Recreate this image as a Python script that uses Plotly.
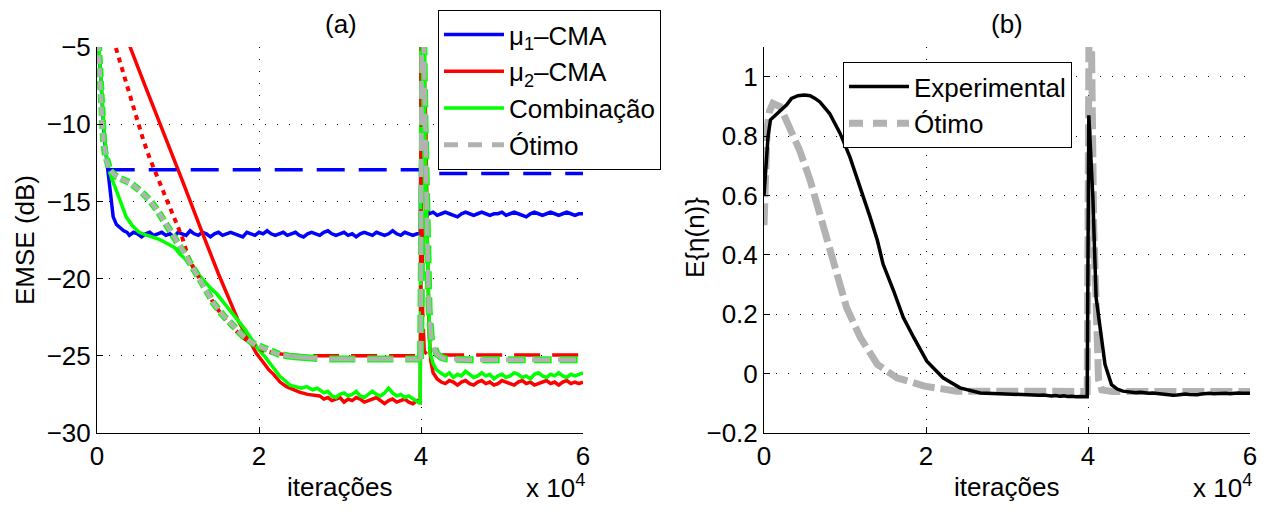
import numpy as np
import plotly.graph_objects as go

# ---------------- Panel (a) data (x in units of 10^4 iterations) ----------------
mu1_x_tr = [0, 0.03, 0.06, 0.09, 0.13, 0.15, 0.17, 0.2, 0.24, 0.28, 0.33, 0.37]
mu1_y_tr = [-3.0, -5.6, -8.4, -10.8, -12.8, -13.6, -14.8, -16.0, -16.5, -16.7, -16.9, -17.0]
mu1_y_flat1 = [-17.2, -17.0, -17.1, -17.3, -17.1, -17.0, -17.2, -17.1, -17.0, -17.2,
               -17.1, -17.3, -17.0, -17.1, -17.2, -16.9, -17.1, -17.2, -17.0, -17.1,
               -17.3, -17.1, -17.0, -17.2, -17.1, -17.0, -17.1, -17.2, -17.3, -17.0,
               -17.1, -17.2, -17.0, -17.1, -16.9, -17.1, -17.2, -17.1, -17.0, -17.2,
               -17.1, -17.0, -17.2, -17.3, -17.1, -17.0, -17.1, -17.2, -17.0, -16.9,
               -17.1, -17.2, -17.1, -17.0, -17.2, -17.1, -17.3, -17.1, -17.0, -17.1,
               -17.2, -17.0, -17.1, -17.2, -17.1, -16.9, -17.1, -17.2, -17.0, -17.1,
               -17.2, -17.1]
mu1_x_sp = [3.99, 4.01, 4.04, 4.06, 4.08]
mu1_y_sp = [-17.1, -3.0, -9.0, -14.5, -15.6]
mu1_y_flat2 = [-15.8, -15.7, -15.9, -15.8, -15.7, -15.8, -15.9, -16.0, -15.8, -15.7,
               -15.8, -15.9, -15.8, -15.7, -15.8, -15.9, -15.8, -15.8, -15.7, -15.9,
               -15.8, -15.7, -15.8, -15.9, -16.0, -15.8, -15.7, -15.8, -15.9, -15.8,
               -15.7, -15.8, -15.9, -15.8, -15.7, -15.8, -15.9, -15.8, -15.8]

mu2_x_tr = [0.33, 0.407, 0.6, 0.85, 1.05, 1.29, 1.5, 1.75, 1.97, 2.05, 2.12, 2.18,
            2.26, 2.34, 2.42, 2.5, 2.6, 2.7]
mu2_y_tr = [-4.0, -4.98, -7.6, -10.9, -13.6, -16.9, -19.7, -22.8, -24.86, -25.4, -25.9,
            -26.2, -26.7, -27.0, -27.2, -27.35, -27.5, -27.6]
mu2_y_flat1 = [-27.6, -27.8, -27.7, -27.9, -27.8, -27.7, -28.0, -27.8, -27.9, -27.7,
               -27.8, -28.0, -27.9, -27.8, -27.7, -27.9, -28.1, -27.9, -27.8, -28.0,
               -27.9, -27.8, -28.0, -28.1, -27.9]
mu2_x_sp = [3.99, 4.02, 4.06, 4.08, 4.1, 4.12, 4.15, 4.2, 4.25]
mu2_y_sp = [-28.0, -3.0, -10.0, -18.0, -23.5, -25.3, -26.1, -26.5, -26.7]
mu2_y_flat2 = [-26.8, -26.6, -26.7, -26.9, -26.7, -26.6, -26.8, -26.9, -26.7, -26.6,
               -26.8, -26.7, -26.9, -26.8, -26.6, -26.7, -26.8, -26.9, -26.7, -26.6,
               -26.8, -26.7, -26.9, -26.8, -26.7, -26.6, -26.8, -26.7, -26.9, -26.7,
               -26.6, -26.8, -26.7, -26.8, -26.7]

comb_x_tr = [0, 0.03, 0.06, 0.09, 0.13, 0.18, 0.24, 0.3, 0.36, 0.44, 0.52, 0.62, 0.74,
             0.82, 0.9, 0.96, 1.02, 1.08, 1.15, 1.23, 1.31, 1.4, 1.48, 1.56, 1.64, 1.7,
             1.77, 1.83, 1.89, 1.95, 2.01, 2.08, 2.14, 2.2, 2.26, 2.32, 2.38, 2.45, 2.52,
             2.59, 2.66, 2.72]
comb_y_tr = [-3.0, -5.5, -8.3, -10.6, -12.6, -13.5, -14.3, -15.2, -16.0, -16.6, -17.0,
             -17.2, -17.4, -17.6, -17.8, -18.0, -18.4, -18.7, -19.0, -19.6, -20.1, -20.6,
             -21.0, -21.5, -22.0, -22.4, -22.9, -23.3, -23.8, -24.2, -24.7, -25.1, -25.5,
             -25.9, -26.35, -26.6, -26.9, -27.0, -27.1, -27.0, -27.2, -27.1]
comb_y_flat1 = [-27.2, -27.4, -27.3, -27.6, -27.7, -27.5, -27.4, -27.6, -27.5, -27.3,
                -27.6, -27.7, -27.5, -27.3, -27.5, -27.6, -27.4, -27.1, -27.4, -27.6,
                -27.5, -27.7, -27.6, -27.8, -28.0]
comb_x_sp = [3.99, 4.0, 4.04, 4.07, 4.09, 4.11, 4.15, 4.19, 4.24]
comb_y_sp = [-28.1, -3.0, -8.0, -16.0, -22.0, -24.8, -25.5, -25.9, -26.1]
comb_y_flat2 = [-26.3, -26.1, -26.4, -26.2, -26.3, -26.0, -26.2, -26.4, -26.3, -26.1,
                -26.3, -26.2, -26.5, -26.3, -26.2, -26.4, -26.3, -26.1, -26.2, -26.4,
                -26.3, -26.5, -26.2, -26.1, -26.3, -26.4, -26.2, -26.3, -26.1, -26.3,
                -26.4, -26.2, -26.3, -26.2, -26.1]

mu1_th_x = [0.12, 3.995, 4.0, 6.0]
mu1_th_y = [-12.95, -12.95, -13.2, -13.2]

mu2_th_x = [0.18, 0.23, 0.32, 0.41, 0.49, 0.57, 0.65, 0.74, 0.82, 0.9, 0.98, 1.05, 1.12,
            1.2, 1.3, 1.44, 1.56, 1.68, 1.8, 1.93, 2.05, 2.2, 2.35, 2.5, 2.7, 3.0, 3.5,
            3.995, 4.0, 4.01, 4.02, 4.04, 4.08, 4.5, 5.0, 5.5, 6.0]
mu2_th_y = [-3.8, -5.0, -6.6, -8.2, -9.8, -11.0, -12.2, -13.3, -14.4, -15.4, -16.4, -17.3,
            -18.5, -19.4, -20.3, -21.6, -22.5, -23.2, -23.8, -24.3, -24.65, -24.85, -24.95,
            -25.0, -25.0, -25.0, -25.0, -25.0, -3.0, -15.0, -22.0, -24.7, -24.95, -24.95,
            -24.95, -24.95, -24.95]

opt_a_x = [0, 0.02, 0.04, 0.06, 0.08, 0.1, 0.12, 0.16, 0.24, 0.32, 0.41, 0.53, 0.65, 0.76,
           0.86, 0.95, 1.05, 1.15, 1.3, 1.44, 1.56, 1.68, 1.8, 1.93, 2.05, 2.14, 2.25, 2.4,
           2.6, 2.8, 3.2, 3.6, 3.995, 4.01, 4.03, 4.05, 4.08, 4.1, 4.13, 4.17, 4.2, 4.25,
           4.3, 4.6, 5.0, 5.5, 6.0]
opt_a_y = [-3.0, -5.5, -7.8, -9.6, -11.0, -11.9, -12.4, -13.0, -13.4, -13.6, -13.8, -14.3,
           -14.9, -15.7, -16.5, -17.2, -18.1, -19.0, -20.3, -21.6, -22.4, -23.1, -23.7,
           -24.2, -24.5, -24.7, -24.9, -25.05, -25.15, -25.2, -25.2, -25.2, -25.2, -3.0,
           -3.0, -10.0, -18.0, -22.0, -24.0, -24.6, -24.9, -25.1, -25.2, -25.25, -25.25,
           -25.25, -25.25]

# ---------------- Panel (b) data ----------------
exp_x_tr = [0, 0.02, 0.05, 0.08, 0.16, 0.22, 0.28, 0.34, 0.42, 0.5, 0.57, 0.63, 0.69,
            0.81, 0.94, 1.06, 1.19, 1.31, 1.4, 1.47, 1.6, 1.72, 1.85, 2.01, 2.21, 2.42,
            2.67, 2.85]
exp_y_tr = [0.6, 0.70, 0.80, 0.855, 0.876, 0.89, 0.905, 0.927, 0.936, 0.938, 0.936,
            0.927, 0.915, 0.876, 0.809, 0.73, 0.628, 0.527, 0.448, 0.369, 0.279, 0.189,
            0.121, 0.042, -0.014, -0.048, -0.065, -0.067]
exp_y_flat1 = [-0.068, -0.069, -0.070, -0.071, -0.070, -0.072, -0.071, -0.073, -0.072,
               -0.074, -0.073, -0.072, -0.074, -0.075, -0.074, -0.076, -0.075, -0.077,
               -0.076, -0.078, -0.077, -0.078]
exp_x_sp = [3.99, 4.01, 4.06, 4.1, 4.15, 4.21, 4.29, 4.36, 4.43]
exp_y_sp = [-0.078, 0.87, 0.594, 0.256, 0.144, 0.031, -0.037, -0.052, -0.059]
exp_y_flat2 = [-0.062, -0.063, -0.064, -0.063, -0.065, -0.066, -0.065, -0.067, -0.068,
               -0.070, -0.072, -0.073, -0.072, -0.070, -0.069, -0.070, -0.072, -0.071,
               -0.069, -0.067, -0.066, -0.068, -0.067, -0.065, -0.066, -0.068, -0.066,
               -0.065, -0.066, -0.067, -0.066]

opt_b_x = [0, 0.02, 0.04, 0.07, 0.11, 0.2, 0.32, 0.44, 0.57, 0.69, 0.77, 0.85, 1.02, 1.19,
           1.4, 1.64, 1.98, 2.38, 2.8, 3.4, 3.99, 4.015, 4.035, 4.07, 4.1, 4.13, 4.17,
           4.3, 5.0, 6.0]
opt_b_y = [0.5, 0.72, 0.83, 0.885, 0.91, 0.899, 0.831, 0.752, 0.651, 0.538, 0.46, 0.369,
           0.222, 0.121, 0.031, -0.014, -0.042, -0.059, -0.06, -0.06, -0.06, 1.3, 1.3,
           0.5, 0.15, -0.02, -0.055, -0.06, -0.06, -0.06]

BLUE, RED, GREEN, GRAY = "rgb(0,0,255)", "rgb(255,0,0)", "rgb(0,255,0)", "rgb(178,178,178)"
FONT = "Liberation Sans, Arial, Helvetica, sans-serif"
FS = 26


def grid(a, b, n):
    return list(np.round(np.linspace(a, b, n), 4))


mu1_x = mu1_x_tr + grid(0.4, 3.95, len(mu1_y_flat1)) + mu1_x_sp + grid(4.1, 6.0, len(mu1_y_flat2))
mu1_y = mu1_y_tr + mu1_y_flat1 + mu1_y_sp + mu1_y_flat2
mu2_x = mu2_x_tr + grid(2.75, 3.95, len(mu2_y_flat1)) + mu2_x_sp + grid(4.3, 6.0, len(mu2_y_flat2))
mu2_y = mu2_y_tr + mu2_y_flat1 + mu2_y_sp + mu2_y_flat2
comb_x = comb_x_tr + grid(2.75, 3.95, len(comb_y_flat1)) + comb_x_sp + grid(4.3, 6.0, len(comb_y_flat2))
comb_y = comb_y_tr + comb_y_flat1 + comb_y_sp + comb_y_flat2
exp_x = exp_x_tr + grid(2.9, 3.95, len(exp_y_flat1)) + exp_x_sp + grid(4.5, 6.0, len(exp_y_flat2))
exp_y = exp_y_tr + exp_y_flat1 + exp_y_sp + exp_y_flat2

fig = go.Figure()


def split(xs, ys, lo, hi):
    px = [x for x in xs if lo <= x <= hi]
    py = [y for x, y in zip(xs, ys) if lo <= x <= hi]
    return px, py


# experimental curves (a)
fig.add_trace(go.Scatter(x=mu1_x, y=mu1_y, mode="lines", line=dict(color=BLUE, width=3.5),
                         name="μ<sub>1</sub>–CMA", legend="legend", legendrank=1))
fig.add_trace(go.Scatter(x=mu2_x, y=mu2_y, mode="lines", line=dict(color=RED, width=3.5),
                         name="μ<sub>2</sub>–CMA", legend="legend", legendrank=2))
fig.add_trace(go.Scatter(x=comb_x, y=comb_y, mode="lines", line=dict(color=GREEN, width=3.5),
                         name="Combinação", legend="legend", legendrank=3))

# theory curves (a)
sx, sy = split(mu2_th_x, mu2_th_y, 0, 2.2)
fig.add_trace(go.Scatter(x=sx, y=sy, mode="lines", line=dict(color=RED, width=4, dash="5px,5px"),
                         showlegend=False))
sx, sy = split(mu2_th_x, mu2_th_y, 2.2, 6)
fig.add_trace(go.Scatter(x=sx, y=sy, mode="lines", line=dict(color=RED, width=3.5, dash="26px,12px"),
                         showlegend=False))
fig.add_trace(go.Scatter(x=mu1_th_x, y=mu1_th_y, mode="lines",
                         line=dict(color=BLUE, width=3.5, dash="28px,14px"), showlegend=False))
for lo, hi, d in [(0, 2.4, "9px,4px"), (2.4, 3.995, "26px,12px"), (3.995, 6, "18px,8px")]:
    sx, sy = split(opt_a_x, opt_a_y, lo, hi)
    fig.add_trace(go.Scatter(x=sx, y=sy, mode="lines", line=dict(color=GREEN, width=7, dash=d),
                             showlegend=False))
    fig.add_trace(go.Scatter(x=sx, y=sy, mode="lines", line=dict(color=GRAY, width=4.5, dash=d),
                             showlegend=False))
fig.add_trace(go.Scatter(x=[None], y=[None], mode="lines", line=dict(color=GRAY, width=5, dash="14px,10px"),
                         name="Ótimo", legend="legend", legendrank=4))

# panel (b)
fig.add_trace(go.Scatter(x=opt_b_x, y=opt_b_y, mode="lines", xaxis="x2", yaxis="y2",
                         line=dict(color=GRAY, width=7, dash="22px,6px"), showlegend=False))
fig.add_trace(go.Scatter(x=exp_x, y=exp_y, mode="lines", xaxis="x2", yaxis="y2",
                         line=dict(color="black", width=3.5), name="Experimental",
                         legend="legend2", legendrank=1))
fig.add_trace(go.Scatter(x=[None], y=[None], mode="lines", xaxis="x2", yaxis="y2",
                         line=dict(color=GRAY, width=7, dash="14px,10px"), name="Ótimo",
                         legend="legend2", legendrank=2))

# page has an 8px body margin: figure sized to fit, reference pixels shifted by 8
OFF = 8
W, H = 1275 - 2 * OFF, 512 - 2 * OFF


def fx(px):
    return (px - OFF) / W


def fy(py):
    return 1 - (py - OFF) / H


xa_dom = [fx(97), fx(583)]
xb_dom = [fx(764), fx(1250)]
y_dom = [fy(433), fy(47)]

axis_common = dict(showline=True, linecolor="black", linewidth=1, ticks="inside", ticklen=6,
                   tickcolor="black", tickwidth=1, showgrid=True, gridcolor="black", gridwidth=1,
                   griddash="1px,11px", zeroline=False, mirror=False, automargin=False,
                   tickfont=dict(family=FONT, size=FS, color="black"))

fig.update_layout(
    width=W, height=H, paper_bgcolor="white", plot_bgcolor="white",
    margin=dict(l=0, r=0, t=0, b=0, autoexpand=False),
    font=dict(family=FONT, size=FS, color="black"),
    xaxis=dict(domain=xa_dom, range=[0, 6], tickvals=[0, 2, 4, 6], anchor="y", **axis_common),
    yaxis=dict(domain=y_dom, range=[-30, -5], tickvals=[-30, -25, -20, -15, -10, -5], anchor="x",
               **axis_common),
    xaxis2=dict(domain=xb_dom, range=[0, 6], tickvals=[0, 2, 4, 6], anchor="y2", **axis_common),
    yaxis2=dict(domain=y_dom, range=[-0.2, 1.1], tickvals=[-0.2, 0, 0.2, 0.4, 0.6, 0.8, 1],
                ticktext=["−0.2", "0", "0.2", "0.4", "0.6", "0.8", "1"], anchor="x2", **axis_common),
    legend=dict(x=fx(438), y=fy(10), xanchor="left", yanchor="top", bgcolor="white",
                bordercolor="black", borderwidth=1, font=dict(family=FONT, size=FS),
                tracegroupgap=0, itemwidth=60),
    legend2=dict(x=fx(843), y=fy(62), xanchor="left", yanchor="top", bgcolor="white",
                 bordercolor="black", borderwidth=1, font=dict(family=FONT, size=FS),
                 tracegroupgap=0, itemwidth=60),
    showlegend=True,
)

ann = [
    ("(a)", 341, 8, 0, "top"), ("(b)", 1007, 8, 0, "top"),
    ("iterações", 340, 487, 0, "middle"), ("iterações", 1007, 487, 0, "middle"),
    ("x 10<sup>4</sup>", 555, 504, 0, "bottom"), ("x 10<sup>4</sup>", 1222, 504, 0, "bottom"),
    ("EMSE (dB)", 25, 240, -90, "middle"), ("E{η(n)}", 695, 238, -90, "middle"),
]
for t, px, py, ang, ya in ann:
    fig.add_annotation(text=t, x=fx(px), y=fy(py), xref="paper", yref="paper",
                       showarrow=False, textangle=ang, xanchor="center", yanchor=ya,
                       borderpad=0, font=dict(family=FONT, size=FS, color="black"))

fig.write_html("out.html")
